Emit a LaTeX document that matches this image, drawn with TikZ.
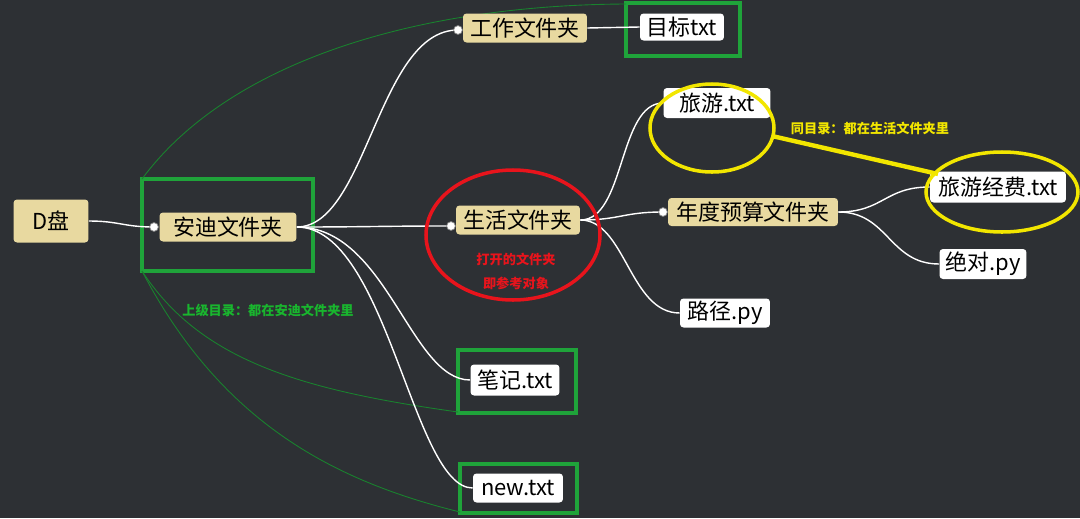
\documentclass[tikz,border=0pt]{standalone}
\usepackage{fontspec}
\setmainfont{Noto Sans CJK SC}
\definecolor{bg}{HTML}{2D3034}
\definecolor{tan}{HTML}{E8D9A0}
\definecolor{gbox}{HTML}{1FA33A}
\definecolor{rd}{HTML}{E8141C}
\definecolor{yl}{HTML}{F2E600}
\tikzset{
 tanbox/.style={fill=tan,rounded corners=2pt,inner sep=0pt,font=\fontsize{12.5}{14}\selectfont},
 whbox/.style={fill=white,rounded corners=2pt,inner sep=0pt,font=\fontsize{12.5}{14}\selectfont},
 frame/.style={draw=gbox,line width=2.2pt},
 conn/.style={draw=white,line width=0.8pt},
 thin/.style={draw=gbox!80!black,line width=0.5pt},
 dot/.style={circle,fill=white,draw=gray,inner sep=0pt,minimum size=5pt},
 lbl/.style={font=\fontsize{7.5}{9}\selectfont\bfseries}
}
\begin{document}
\begin{tikzpicture}[x=0.02cm,y=-0.02cm]
\fill[bg] (0,0) rectangle (1080,518);
% green frames
\draw[frame] (142,179) rectangle (313,271);
\draw[frame] (626,3) rectangle (740,56);
\draw[frame] (458,350) rectangle (576,413);
\draw[frame] (460,464) rectangle (577,513);
% thin green curves
\draw[thin] (142,179) .. controls (230,60) and (420,5) .. (626,4);
\draw[thin] (142,271) .. controls (200,360) and (300,390) .. (458,412);
\draw[thin] (142,271) .. controls (220,420) and (330,480) .. (460,512);
% nodes
\node[tanbox,minimum width=1.5cm,minimum height=0.86cm] (d) at (51,221) {D盘};
\node[tanbox,minimum width=2.74cm,minimum height=0.58cm] (a) at (228,227) {安迪文件夹};
\node[tanbox,minimum width=2.48cm,minimum height=0.58cm] (g) at (525,28) {工作文件夹};
\node[whbox,minimum width=1.68cm,minimum height=0.54cm] (m) at (682,27) {目标txt};
\node[tanbox,minimum width=2.48cm,minimum height=0.58cm] (s) at (518,220) {生活文件夹};
\node[whbox,minimum width=2.14cm,minimum height=0.6cm] (l) at (717,103) {旅游.txt};
\node[tanbox,minimum width=3.4cm,minimum height=0.56cm] (n) at (753,212) {年度预算文件夹};
\node[whbox,minimum width=2.72cm,minimum height=0.62cm] (lf) at (998,187) {旅游经费.txt};
\node[whbox,minimum width=1.74cm,minimum height=0.6cm] (j) at (983,264) {绝对.py};
\node[whbox,minimum width=1.8cm,minimum height=0.58cm] (p) at (725,313) {路径.py};
\node[whbox,minimum width=1.78cm,minimum height=0.62cm] (b) at (515,380) {笔记.txt};
\node[whbox,minimum width=1.8cm,minimum height=0.58cm] (nw) at (518,488) {new.txt};
% connectors
\coordinate (da) at (154,227);
\coordinate (ag) at (458,30);
\coordinate (as) at (451,226);
\coordinate (sn) at (663,212);
\draw[conn] (d.east) .. controls +(30,0) and +(-30,0) .. (da);
\draw[conn] (a.east) .. controls +(70,0) and +(-80,0) .. (ag);
\draw[conn] (a.east) .. controls +(70,0) and +(-70,0) .. (as);
\draw[conn] (a.east) .. controls +(90,0) and +(-60,0) .. (b.west);
\draw[conn] (a.east) .. controls +(90,0) and +(-60,0) .. (nw.west);
\draw[conn] (g.east) -- (m.west);
\draw[conn] (s.east) .. controls +(45,0) and +(-45,0) .. (l.west);
\draw[conn] (s.east) .. controls +(40,0) and +(-40,0) .. (sn);
\draw[conn] (s.east) .. controls +(45,0) and +(-50,0) .. (p.west);
\draw[conn] (n.east) .. controls +(45,0) and +(-45,0) .. (lf.west);
\draw[conn] (n.east) .. controls +(50,0) and +(-50,0) .. (j.west);
\foreach \c in {da,ag,as,sn} \node[dot] at (\c) {};
% ellipses
\draw[rd,line width=2pt] (513,235) ellipse [x radius=87,y radius=65];
\draw[yl,line width=2pt] (712,128) ellipse [x radius=62,y radius=44];
\draw[yl,line width=2pt] (1002,192) ellipse [x radius=76,y radius=40];
\draw[yl,line width=2.5pt] (772,136) -- (938,174);
% labels
\node[rd,lbl] (t1) at (516,259) {打开的文件夹};
\node[rd,lbl] (t2) at (516,283) {即参考对象};
\node[yl,lbl] (t3) at (870,128) {同目录：都在生活文件夹里};
\node[gbox!80!green,lbl] (t4) at (268,310) {上级目录：都在安迪文件夹里};
\end{tikzpicture}
\end{document}
